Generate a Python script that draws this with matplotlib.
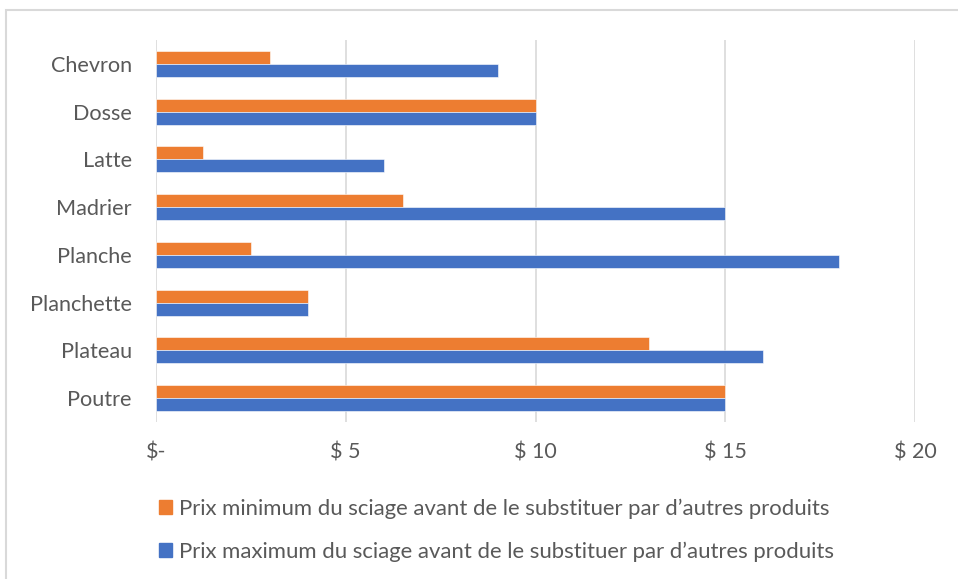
import matplotlib
matplotlib.use("Agg")
import matplotlib.pyplot as plt
import matplotlib.patches as mpatches
import numpy as np

categories = ["Chevron", "Dosse", "Latte", "Madrier", "Planche", "Planchette", "Plateau", "Poutre"]
prix_min = [3, 10, 1.25, 6.5, 2.5, 4, 13, 15]
prix_max = [9, 10, 6, 15, 18, 4, 16, 15]
xticks = [0, 5, 10, 15, 20]
xticklabels = ["$-", "$ 5", "$ 10", "$ 15", "$ 20"]
label_min = "Prix minimum du sciage avant de le substituer par d\u2019autres produits"
label_max = "Prix maximum du sciage avant de le substituer par d\u2019autres produits"

plt.rcParams['font.family'] = ['Lato', 'DejaVu Sans']
text_color = "#595959"
orange = "#ED7D31"
blue = "#4472C4"

fig = plt.figure(figsize=(9.58, 5.79), dpi=100)
ax = fig.add_axes([156/958, 1-422/579, (915-156)/958, (422-40)/579])

y = np.arange(len(categories))
h = 0.27
ax.barh(y - h/2, prix_min, height=h, color=orange, edgecolor="white", linewidth=0.4, label=label_min, zorder=3)
ax.barh(y + h/2, prix_max, height=h, color=blue, edgecolor="white", linewidth=0.4, label=label_max, zorder=3)

ax.set_ylim(len(categories) - 0.5, -0.5)
ax.set_xlim(0, 20)
ax.set_yticks(y)
ax.set_yticklabels(categories, fontsize=15.6, color=text_color)
ax.set_xticks(xticks)
ax.set_xticklabels(xticklabels, fontsize=15.5, color=text_color)
ax.tick_params(axis='both', length=0)
ax.tick_params(axis='y', pad=17.5)
ax.tick_params(axis='x', pad=15)
ax.grid(axis='x', color="#D9D9D9", linewidth=1.2, zorder=0)
for s in ax.spines.values():
    s.set_visible(False)

handles = [mpatches.Patch(color=orange, label=label_min), mpatches.Patch(color=blue, label=label_max)]
leg = fig.legend(handles=handles, loc="upper left", bbox_to_anchor=(150/958, 1-490/579),
                 frameon=False, fontsize=15.9, handlelength=0.6, handleheight=0.6,
                 handletextpad=0.3, labelspacing=1.0, borderaxespad=0)
for t in leg.get_texts():
    t.set_color(text_color)

frame = mpatches.Rectangle((6/958, -0.1), 1.2, 1 - 10/579 + 0.1, transform=fig.transFigure,
                           fill=False, edgecolor="#D9D9D9", linewidth=1.5)
fig.patches.append(frame)

fig.savefig("out.png", dpi=100)
